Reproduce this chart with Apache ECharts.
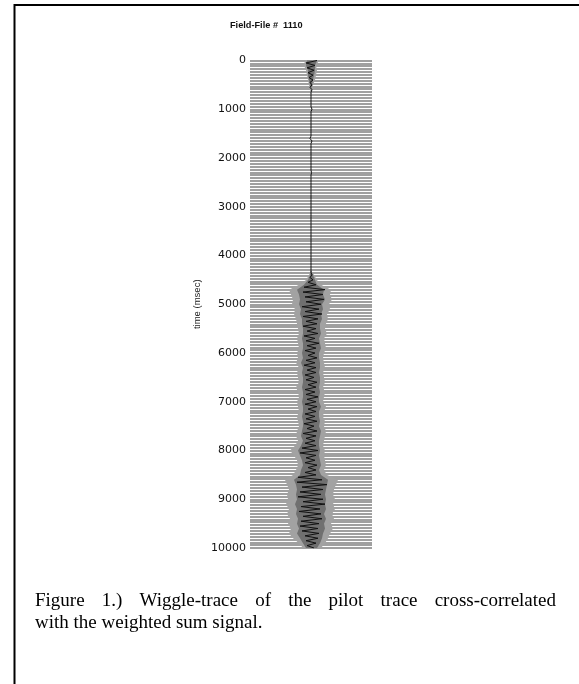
<!DOCTYPE html>
<html>
<head>
<meta charset="utf-8">
<script src="https://cdn.jsdelivr.net/npm/echarts@6/dist/echarts.min.js"></script>
<style>html,body{margin:0;padding:0;background:#fff;}#c{width:579px;height:684px;}</style>
</head>
<body>
<div id="c"></div>
<script>
// ---- data ----
const titleText = 'Field-File #  1110';
const yAxisName = 'time (msec)';
const timeTicks = [0, 1000, 2000, 3000, 4000, 5000, 6000, 7000, 8000, 9000, 10000];
const captionLine1 = ['Figure', '1.)', 'Wiggle-trace', 'of', 'the', 'pilot', 'trace', 'cross-correlated'];
const captionLine2 = 'with the weighted sum signal.';

// gray variable-area envelope, sampled every 100 ms
const envTimes = [0,100,200,300,400,500,600,700,800,900,1000,1100,1200,1300,1400,1500,1600,1700,1800,1900,2000,2100,2200,2300,2400,2500,2600,2700,2800,2900,3000,3100,3200,3300,3400,3500,3600,3700,3800,3900,4000,4100,4200,4300,4400,4500,4600,4700,4800,4900,5000,5100,5200,5300,5400,5500,5600,5700,5800,5900,6000,6100,6200,6300,6400,6500,6600,6700,6800,6900,7000,7100,7200,7300,7400,7500,7600,7700,7800,7900,8000,8100,8200,8300,8400,8500,8600,8700,8800,8900,9000,9100,9200,9300,9400,9500,9600,9700,9800,9900,10000];
const envLeft = [-6,-7,-5,-4,-3,-2,-1,0,0,0,0,0,0,0,0,0,0,0,0,0,0,0,0,0,0,0,0,0,0,0,0,0,0,0,0,0,0,0,0,0,0,0,0,0,-2,-5,-12,-22,-20,-18,-19,-16,-17,-15,-14,-13,-12,-14,-13,-12,-14,-13,-15,-12,-14,-13,-12,-15,-13,-12,-14,-13,-12,-14,-13,-12,-14,-15,-13,-16,-21,-17,-14,-13,-15,-18,-26,-24,-22,-24,-23,-25,-22,-24,-21,-23,-20,-22,-18,-12,-8];
const envRight = [8,5,6,5,4,2,1,0,0,0,0,0,0,0,0,0,0,0,0,0,0,0,0,0,0,0,0,0,0,0,0,0,0,0,0,0,0,0,0,0,0,0,0,0,3,6,10,20,19,21,18,19,16,17,15,14,16,13,14,15,13,12,13,14,12,13,14,12,14,13,12,15,13,12,14,13,15,14,13,12,14,13,14,15,13,16,27,25,23,22,24,22,24,21,23,20,22,19,17,14,10];
// darker inner band
const midLeft = [-4,-5,-3,-3,-2,-1,0,0,0,0,0,0,0,0,0,0,0,0,0,0,0,0,0,0,0,0,0,0,0,0,0,0,0,0,0,0,0,0,0,0,0,0,0,0,-1,-3,-7,-14,-12,-11,-12,-10,-11,-9,-9,-8,-8,-9,-8,-8,-9,-8,-10,-8,-9,-8,-8,-9,-8,-8,-9,-8,-8,-9,-8,-8,-9,-10,-8,-10,-13,-11,-9,-8,-10,-11,-17,-15,-14,-15,-14,-16,-14,-15,-13,-14,-12,-14,-11,-8,-5];
const midRight = [6,4,4,3,2,1,0,0,0,0,0,0,0,0,0,0,0,0,0,0,0,0,0,0,0,0,0,0,0,0,0,0,0,0,0,0,0,0,0,0,0,0,0,0,2,4,6,13,12,14,11,12,10,11,9,9,10,8,9,10,8,8,9,9,8,9,9,8,9,8,8,10,8,8,9,8,10,9,8,8,9,8,9,10,8,10,17,16,15,14,15,14,15,13,15,13,14,12,11,9,6];

// black wiggle trace, sampled every 50 ms
const wigTimes = [0,50,100,150,200,250,300,350,400,450,500,550,600,650,700,750,800,850,900,950,1000,1050,1100,1150,1200,1250,1300,1350,1400,1450,1500,1550,1600,1650,1700,1750,1800,1850,1900,1950,2000,2050,2100,2150,2200,2250,2300,2350,2400,2450,2500,2550,2600,2650,2700,2750,2800,2850,2900,2950,3000,3050,3100,3150,3200,3250,3300,3350,3400,3450,3500,3550,3600,3650,3700,3750,3800,3850,3900,3950,4000,4050,4100,4150,4200,4250,4300,4350,4400,4450,4500,4550,4600,4650,4700,4750,4800,4850,4900,4950,5000,5050,5100,5150,5200,5250,5300,5350,5400,5450,5500,5550,5600,5650,5700,5750,5800,5850,5900,5950,6000,6050,6100,6150,6200,6250,6300,6350,6400,6450,6500,6550,6600,6650,6700,6750,6800,6850,6900,6950,7000,7050,7100,7150,7200,7250,7300,7350,7400,7450,7500,7550,7600,7650,7700,7750,7800,7850,7900,7950,8000,8050,8100,8150,8200,8250,8300,8350,8400,8450,8500,8550,8600,8650,8700,8750,8800,8850,8900,8950,9000,9050,9100,9150,9200,9250,9300,9350,9400,9450,9500,9550,9600,9650,9700,9750,9800,9850,9900,9950,10000];
const wigAmp = [6,-5,4,-4,3,-3,2,-2,2,-1,1,-1,1,
0,0,0,0,0,0,0,1,0,0,0,0,0,0,0,0,0,0,0,-1,1,0,0,0,0,0,0,0,0,0,0,0,0,0.5,0,0,0,0,0,0,0,0,0,0,0,0,0,0,0,0,0,0,0,0,0,0,0,0,0,0,0,0,0,0,0,0,0,0,0,0,0,0,0,0,0,
1,-1,2,-3,5,-7,14,-8,12,-6,13,-5,10,-9,8,-6,11,-8,7,-5,6,-8,5,-4,7,-7,4,-5,8,-4,5,-6,4,-3,6,-5,4,-7,5,-4,5,-6,3,-5,6,-3,5,-6,4,-5,7,-4,5,-6,6,-3,5,-6,4,-5,6,-7,3,-4,6,-8,5,-5,4,-6,5,-9,7,-11,5,-5,4,-6,6,-3,5,-6,5,-13,11,-14,16,-9,12,-11,10,-13,12,-8,14,-10,9,-12,10,-8,11,-10,8,-11,7,-9,8,-6,7,-5,5,-4,3];

// ---- chart ----
const chart = echarts.init(document.getElementById('c'), null, {renderer: 'canvas'});

const captionFont = "19px 'Liberation Serif'";
const ctx = document.createElement('canvas').getContext('2d');
ctx.font = captionFont;
const capLeft = 35, capRight = 556;
const wordW = captionLine1.map(w => ctx.measureText(w).width);
const totalW = wordW.reduce((a, b) => a + b, 0);
const gap = (capRight - capLeft - totalW) / (captionLine1.length - 1);
const captionElems = [];
let cx = capLeft;
captionLine1.forEach((w, i) => {
  captionElems.push({type: 'text', x: cx, y: 601, style: {text: w, font: captionFont, fill: '#000', verticalAlign: 'middle', align: 'left'}});
  cx += wordW[i] + gap;
});
captionElems.push({type: 'text', x: capLeft, y: 623, style: {text: captionLine2, font: captionFont, fill: '#000', verticalAlign: 'middle', align: 'left'}});

function bandSeries(left, right, color, z) {
  return {
    type: 'custom',
    data: [[0, 0]],
    renderItem: function (params, api) {
      const pts = [];
      for (let i = 0; i < envTimes.length; i++) pts.push(api.coord([left[i], envTimes[i]]));
      for (let i = envTimes.length - 1; i >= 0; i--) pts.push(api.coord([right[i], envTimes[i]]));
      return {type: 'polygon', shape: {points: pts}, style: {fill: color, stroke: null}};
    },
    z: z
  };
}

const option = {
  animation: false,
  backgroundColor: '#fff',
  title: {
    text: titleText, left: 230, top: 21, padding: 0,
    textStyle: {fontFamily: 'Liberation Sans', fontWeight: 'bold', fontSize: 9.2, color: '#111'}
  },
  grid: {left: 250, right: 207, top: 60.5, bottom: 136},
  xAxis: {
    type: 'value', min: -61, max: 61,
    axisLine: {show: false}, axisTick: {show: false}, axisLabel: {show: false}, splitLine: {show: false}
  },
  yAxis: {
    type: 'value', inverse: true, min: 0, max: 10000, interval: 1000,
    name: yAxisName, nameLocation: 'middle', nameGap: 48, nameRotate: 90,
    nameTextStyle: {fontFamily: 'Liberation Sans', fontSize: 9.5, color: '#222'},
    axisLine: {show: false}, axisTick: {show: false},
    axisLabel: {fontFamily: 'DejaVu Sans', fontSize: 11, color: '#111', margin: 4,
      formatter: v => timeTicks.indexOf(v) >= 0 ? String(v) : ''},
    splitLine: {show: true, lineStyle: {color: '#a0a0a0', width: 1.9}},
    minorTick: {show: false, splitNumber: 17},
    minorSplitLine: {show: true, lineStyle: {color: '#a0a0a0', width: 1.9}}
  },
  series: [
    bandSeries(envLeft, envRight, '#a2a2a2', 2),
    bandSeries(midLeft, midRight, '#707070', 3),
    {
      type: 'line',
      data: wigTimes.map((t, i) => [wigAmp[i], t]),
      showSymbol: false,
      lineStyle: {color: '#111', width: 1},
      z: 4
    }
  ],
  graphic: [
    {type: 'rect', shape: {x: 14.5, y: 5, width: 700, height: 800}, style: {fill: null, stroke: '#000', lineWidth: 2}, z: 10},
    ...captionElems
  ]
};
chart.setOption(option);
</script>
</body>
</html>
